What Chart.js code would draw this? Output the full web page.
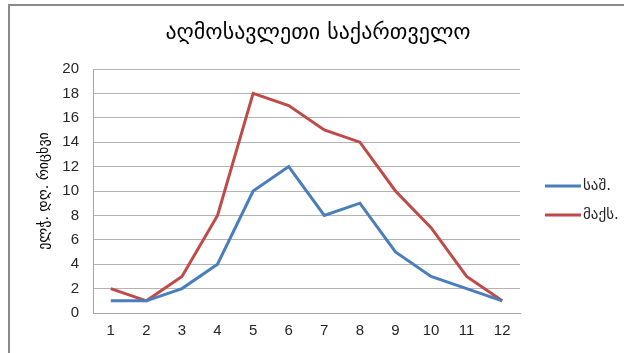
<!DOCTYPE html>
<html>
<head>
<meta charset="utf-8">
<script src="https://cdn.jsdelivr.net/npm/chart.js@4"></script>
<style>
  html, body { margin: 0; padding: 0; background: #fff; }
  #wrap { position: relative; width: 624px; height: 353px; }
  #frame { position: absolute; left: 8px; top: 4px; right: -4px; bottom: -4px;
           border-left: 2px solid #8a8a8a; border-top: 2px solid #8a8a8a; }
  canvas { position: absolute; left: 0; top: 0; }
</style>
</head>
<body>
<div id="wrap">
  <div id="frame"></div>
  <canvas id="chart" width="624" height="353"></canvas>
</div>
<script>
// chart data
const months = ['1', '2', '3', '4', '5', '6', '7', '8', '9', '10', '11', '12'];
const avgDays = [1, 1, 2, 4, 10, 12, 8, 9, 5, 3, 2, 1];
const maxDays = [2, 1, 3, 8, 18, 17, 15, 14, 10, 7, 3, 1];
const seriesNames = ['საშ.', 'მაქს.'];
const chartTitle = 'აღმოსავლეთი საქართველო';
const yTitle = 'ელჭ. დღ. რიცხვი';

const georgianFont = 'DejaVu Sans';
const tickFont = 'Liberation Sans';

// title centred on the whole frame, not just the plot
const frameTitle = {
  id: 'frameTitle',
  afterDraw(chart) {
    const ctx = chart.ctx;
    ctx.save();
    ctx.font = '22px "' + georgianFont + '"';
    ctx.fillStyle = '#000';
    ctx.textAlign = 'center';
    ctx.textBaseline = 'middle';
    ctx.fillText(chartTitle, 318, 33);
    ctx.restore();
  }
};

// legend drawn next to the plot, from the datasets
const sideLegend = {
  id: 'sideLegend',
  afterDraw(chart) {
    const ctx = chart.ctx;
    ctx.save();
    ctx.font = '15px "' + georgianFont + '"';
    ctx.textBaseline = 'middle';
    chart.data.datasets.forEach((ds, i) => {
      const y = 186 + i * 29;
      ctx.strokeStyle = ds.borderColor;
      ctx.lineWidth = 3;
      ctx.beginPath();
      ctx.moveTo(545, y);
      ctx.lineTo(581, y);
      ctx.stroke();
      ctx.fillStyle = '#262626';
      ctx.fillText(ds.label, 583, y);
    });
    ctx.restore();
  }
};

const ctx = document.getElementById('chart').getContext('2d');
new Chart(ctx, {
  type: 'line',
  data: {
    labels: months,
    datasets: [
      { label: seriesNames[0], data: avgDays, borderColor: '#4a7ebb', borderWidth: 3,
        pointRadius: 0, tension: 0, fill: false },
      { label: seriesNames[1], data: maxDays, borderColor: '#be4b48', borderWidth: 3,
        pointRadius: 0, tension: 0, fill: false }
    ]
  },
  options: {
    responsive: false,
    animation: false,
    layout: { padding: { left: 35, right: 104, top: 69, bottom: 0 } },
    plugins: {
      legend: { display: false },
      tooltip: { enabled: false },
      title: { display: false }
    },
    scales: {
      x: {
        offset: true,
        grid: { display: false, drawTicks: false },
        border: { display: true, color: '#a6a6a6', width: 1 },
        ticks: { color: '#262626', padding: 9, font: { family: tickFont, size: 15 } },
        afterFit: s => { s.height = 40; }
      },
      y: {
        min: 0,
        max: 20,
        grid: { color: '#b3b3b3', drawTicks: false },
        border: { display: true, color: '#a6a6a6', width: 1 },
        ticks: { stepSize: 2, color: '#262626', padding: 14, font: { family: tickFont, size: 15 } },
        title: {
          display: true,
          text: yTitle,
          color: '#000',
          font: { family: georgianFont, size: 14 },
          padding: { top: 1, bottom: 0 }
        },
        afterFit: s => { s.width = 58; }
      }
    }
  },
  plugins: [frameTitle, sideLegend]
});
</script>
</body>
</html>
